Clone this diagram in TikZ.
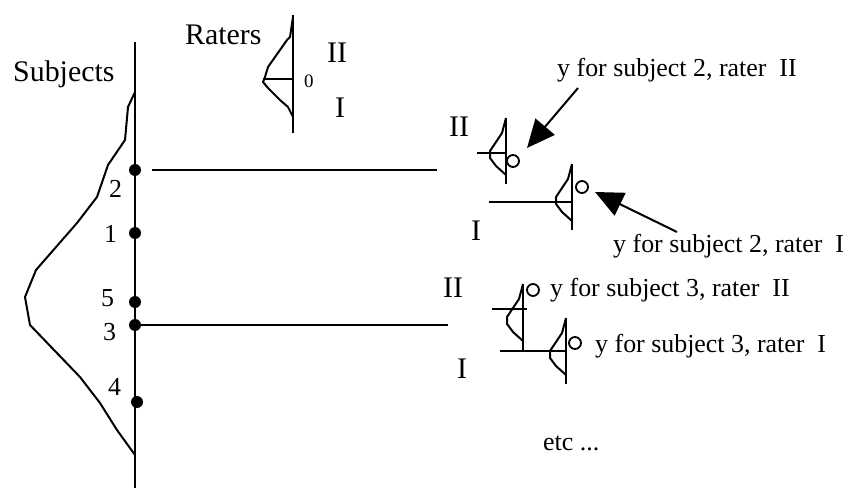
\documentclass[tikz,border=0pt]{standalone}
\usepackage{fontspec}
\setmainfont{Liberation Serif}
\usetikzlibrary{arrows.meta}
\tikzset{
  axisline/.style={line width=2.6bp},
  curveline/.style={line width=2bp, line join=round},
  refline/.style={line width=2.2bp},
  obsdot/.style={circle, fill=black, inner sep=0pt, minimum size=12bp},
  yval/.style={circle, draw, line width=1.8bp, inner sep=0pt, minimum size=12bp},
  title/.style={font=\fontsize{30}{36}\selectfont, inner sep=0pt, anchor=base west},
  num/.style={font=\fontsize{26}{31}\selectfont, inner sep=0pt, anchor=base west},
  ylbl/.style={font=\fontsize{26}{31}\selectfont, inner sep=0pt, anchor=base west},
  parr/.style={-{Triangle[length=28bp,width=25bp]}, line width=2bp},
  ratedist/.pic={
    \draw[curveline] (0,0) -- (-4,15) -- (-16,33) -- (-16,40) -- (-10,48) -- (0,57);
    \draw[axisline] (0,0) -- (0,66);
  }
}

\begin{document}
\begin{tikzpicture}[x=1bp, y=-1bp]
  \useasboundingbox (0,0) rectangle (848,490);

  % Subjects axis and distribution
  \coordinate (sTop) at (135,42);
  \coordinate (sBot) at (135,488);
  \draw[axisline] (sTop) -- (sBot);
  \draw[curveline] (135,92) -- (128,107) -- (125,140) -- (108,165) -- (97,197)
    -- (77,223) -- (36,270) -- (25,297) -- (30,325) -- (80,377) -- (100,403)
    -- (117,430) -- (135,455);
  \node[title] (subj) at (13,82) {Subjects};

  % Subject positions
  \node[obsdot] (s2) at (135,170) {};
  \node[obsdot] (s1) at (135,233) {};
  \node[obsdot] (s5) at (135,302) {};
  \node[obsdot] (s3) at (135,325) {};
  \node[obsdot] (s4) at (137,402) {};
  \node[num] (n2) at (109,198) {2};
  \node[num] (n1) at (104,243) {1};
  \node[num] (n5) at (101,307) {5};
  \node[num] (n3) at (103,340) {3};
  \node[num] (n4) at (108,395) {4};

  % Raters axis and distribution
  \coordinate (rTop) at (293,15);
  \coordinate (rBot) at (293,133);
  \draw[axisline] (rTop) -- (rBot);
  \draw[curveline] (293,17) -- (290,37) -- (287,40) -- (268,67) -- (265,77)
    -- (263,82) -- (268,88) -- (280,100) -- (288,107) -- (293,117);
  \coordinate (rZeroL) at (263,79);
  \coordinate (rZeroR) at (293,79);
  \draw[refline] (rZeroL) -- (rZeroR);
  \node[title] (raters) at (185,45) {Raters};
  \node[font=\fontsize{19}{23}\selectfont, inner sep=0pt, anchor=base west] (zero) at (304,88) {0};
  \node[title] (rII) at (327,63) {II};
  \node[title] (rI) at (335,118) {I};

  % Subject 2 level
  \coordinate (l2a) at (152,170);
  \coordinate (l2b) at (437,170);
  \draw[refline] (l2a) -- (l2b);
  \pic at (506,118) {ratedist};
  \coordinate (h2a) at (477,153);
  \coordinate (h2b) at (507,153);
  \draw[refline] (h2a) -- (h2b);
  \node[yval] (y2II) at (513,161) {};
  \pic at (572,164) {ratedist};
  \coordinate (h2c) at (489,202);
  \coordinate (h2d) at (572,202);
  \draw[refline] (h2c) -- (h2d);
  \node[yval] (y2I) at (582,187) {};
  \node[title] (l2II) at (449,137) {II};
  \node[title] (l2I) at (471,241) {I};

  % Subject 3 level
  \coordinate (l3b) at (448,325);
  \draw[refline] (s3.center) -- (l3b);
  \pic at (523,284) {ratedist};
  \coordinate (h3a) at (492,309);
  \coordinate (h3b) at (527,309);
  \draw[refline] (h3a) -- (h3b);
  \node[yval] (y3II) at (533,290) {};
  \pic at (566,318) {ratedist};
  \coordinate (h3c) at (500,351);
  \coordinate (h3d) at (566,351);
  \draw[refline] (h3c) -- (h3d);
  \node[yval] (y3I) at (575,343) {};
  \node[title] (l3II) at (443,298) {II};
  \node[title] (l3I) at (457,378) {I};

  % Annotations
  \node[ylbl] (t2II) at (557,77) {y for subject 2, rater\ \ II};
  \node[ylbl] (t2I) at (613,253) {y for subject 2, rater\ \ I};
  \node[ylbl] (t3II) at (550,297) {y for subject 3, rater\ \ II};
  \node[ylbl] (t3I) at (595,352) {y for subject 3, rater\ \ I};
  \node[ylbl] (etc) at (543,450) {etc ...};

  % Pointer arrows
  \coordinate (a1s) at (578,88);
  \coordinate (a1e) at (527,148);
  \coordinate (a2s) at (677,232);
  \coordinate (a2e) at (595,192);
  \draw[parr] (a1s) -- (a1e);
  \draw[parr] (a2s) -- (a2e);
\end{tikzpicture}
\end{document}
